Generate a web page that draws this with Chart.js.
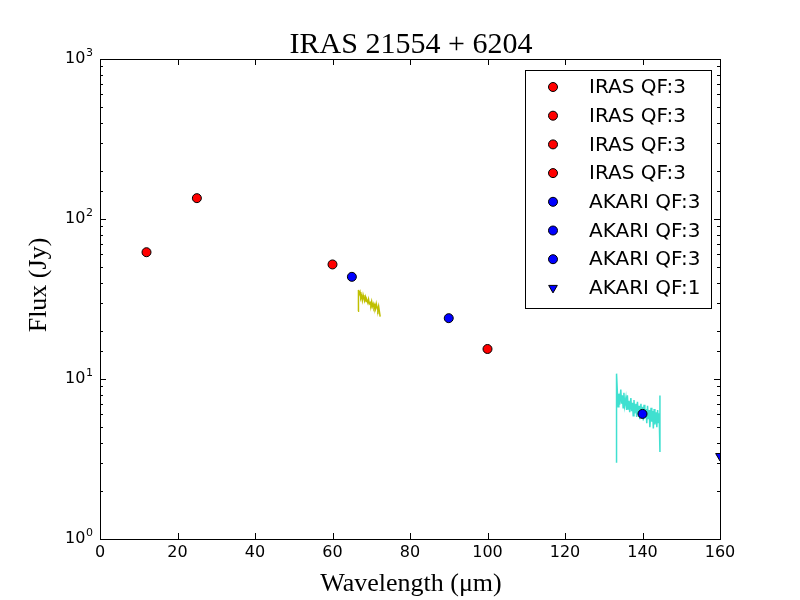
<!DOCTYPE html>
<html>
<head>
<meta charset="utf-8">
<title>IRAS 21554+6204</title>
<script src="https://cdn.jsdelivr.net/npm/chart.js@4"></script>
<style>
  body { margin: 0; background: #fff; }
  canvas { display: block; }
</style>
</head>
<body>
<canvas id="sed" width="800" height="600"></canvas>
<script>
// photometry
const irasWave = [12, 25, 60, 100];
const irasFlux = [62, 135, 52, 15.4];
const irasLabels = ["IRAS QF:3", "IRAS QF:3", "IRAS QF:3", "IRAS QF:3"];

const akariWave = [65, 90, 140];
const akariFlux = [43.5, 24, 6.05];
const akariLabels = ["AKARI QF:3", "AKARI QF:3", "AKARI QF:3"];

const akariLimWave = [160];
const akariLimFlux = [3.3];
const akariLimLabels = ["AKARI QF:1"];

// spectra
const specYWave = [66.6, 66.7, 66.9, 67.1, 67.3, 67.5, 67.7, 67.9, 68.1, 68.3,
  68.5, 68.7, 68.9, 69.1, 69.3, 69.5, 69.7, 69.9, 70.1, 70.3,
  70.5, 70.7, 70.9, 71.1, 71.3, 71.5, 71.7, 71.9, 72.3];
const specYFlux = [26.5, 36, 34, 35, 32, 33, 31, 33.5, 32, 31,
  32.5, 30.5, 31, 30, 31.5, 29.5, 30, 29, 30.5, 28.5,
  29.5, 28, 29, 27.5, 29.5, 28, 27, 28.5, 24.5];

const specCWave = [133.3, 133.3,
  133.5, 133.7, 133.9, 134.1, 134.4, 134.6, 134.8, 135.0, 135.2, 135.4,
  135.7, 135.9, 136.1, 136.3, 136.5, 136.7, 137.0, 137.2, 137.4, 137.6,
  137.8, 138.0, 138.3, 138.5, 138.7, 138.9, 139.1, 139.3, 139.6, 139.8,
  140.0, 140.2, 140.4, 140.6, 140.9, 141.1, 141.3, 141.5, 141.7, 141.9,
  142.2, 142.4, 142.6, 142.8, 143.0, 143.2, 143.5, 143.7, 143.9, 144.1,
  144.3, 144.5, 144.5];
const specCFlux = [3.0, 10.8,
  8.4, 6.7, 8.1, 6.9, 8.6, 7.0, 7.9, 6.6, 8.2, 6.8,
  7.6, 6.4, 7.9, 6.5, 7.3, 6.2, 7.6, 6.3, 7.1, 5.9,
  7.4, 6.1, 7.0, 5.8, 7.2, 6.0, 6.8, 5.6, 7.0, 5.8,
  6.7, 5.5, 6.9, 5.7, 6.5, 5.3, 6.8, 5.6, 6.4, 5.0,
  6.6, 5.4, 6.3, 4.9, 6.5, 5.2, 6.2, 5.0, 6.4, 5.3,
  6.1, 7.9, 3.5];

const xTicks = [0, 20, 40, 60, 80, 100, 120, 140, 160];
const yTickExp = { 1: "0", 10: "1", 100: "2", 1000: "3" };

function pointSet(label, x, y, color, style, rot) {
  return {
    label: label,
    data: [{ x: x, y: y }],
    backgroundColor: color,
    borderColor: "#000",
    borderWidth: 1,
    pointStyle: style,
    pointRotation: rot,
    pointRadius: style === "triangle" ? 5 : 4.5,
    clip: 0
  };
}

function specSet(wave, flux, color) {
  return {
    data: wave.map((w, i) => ({ x: w, y: flux[i] })),
    showLine: true,
    borderColor: color,
    borderWidth: 1.5,
    pointRadius: 0,
    clip: 0
  };
}

const datasets = [];
irasWave.forEach((w, i) => datasets.push(pointSet(irasLabels[i], w, irasFlux[i], "#ff0000", "circle", 0)));
akariWave.forEach((w, i) => datasets.push(pointSet(akariLabels[i], w, akariFlux[i], "#0000ff", "circle", 0)));
akariLimWave.forEach((w, i) => datasets.push(pointSet(akariLimLabels[i], w, akariLimFlux[i], "#0000ff", "triangle", 180)));
datasets.push(specSet(specYWave, specYFlux, "#bfbf00"));
datasets.push(specSet(specCWave, specCFlux, "#40e0d0"));

// frame, inward ticks, log labels, titles and legend box
const decor = {
  id: "decor",
  afterDatasetsDraw(chart) {
    const { ctx, chartArea: a, scales } = chart;
    ctx.save();
    ctx.strokeStyle = "#000";
    ctx.lineWidth = 1;
    ctx.beginPath();
    scales.x.ticks.forEach(t => {
      const px = Math.round(scales.x.getPixelForValue(t.value)) + 0.5;
      ctx.moveTo(px, a.bottom); ctx.lineTo(px, a.bottom - 6);
      ctx.moveTo(px, a.top); ctx.lineTo(px, a.top + 6);
    });
    scales.y.ticks.forEach(t => {
      const lg = Math.log10(t.value);
      const len = Math.abs(lg - Math.round(lg)) < 1e-6 ? 6 : 3;
      const py = Math.round(scales.y.getPixelForValue(t.value)) + 0.5;
      ctx.moveTo(a.left, py); ctx.lineTo(a.left + len, py);
      ctx.moveTo(a.right, py); ctx.lineTo(a.right - len, py);
    });
    ctx.stroke();
    ctx.strokeRect(a.left + 0.5, a.top + 0.5, a.right - a.left, a.bottom - a.top);

    // y tick labels as 10 with raised exponent
    ctx.fillStyle = "#000";
    ctx.textAlign = "left";
    ctx.textBaseline = "middle";
    scales.y.ticks.forEach(t => {
      const e = yTickExp[t.value];
      if (e === undefined) return;
      const py = scales.y.getPixelForValue(t.value);
      ctx.font = "16px 'DejaVu Sans'";
      ctx.fillText("10", 65, py);
      ctx.font = "11px 'DejaVu Sans'";
      ctx.fillText(e, 86, py - 6);
    });

    // legend
    const lx = 525, ly = 70, lw = 186, lh = 238;
    ctx.fillStyle = "#fff";
    ctx.fillRect(lx, ly, lw, lh);
    ctx.strokeRect(lx + 0.5, ly + 0.5, lw, lh);
    ctx.font = "20px 'DejaVu Sans'";
    ctx.textBaseline = "middle";
    ctx.textAlign = "left";
    let row = 0;
    chart.data.datasets.forEach(ds => {
      if (!ds.label) return;
      const y = ly + 17 + row * 28.7;
      ctx.fillStyle = ds.backgroundColor;
      ctx.strokeStyle = "#000";
      ctx.lineWidth = 1;
      Chart.helpers.drawPoint(ctx, {
        pointStyle: ds.pointStyle, radius: ds.pointRadius,
        rotation: ds.pointRotation, borderWidth: 1
      }, 553, y);
      ctx.fillStyle = "#000";
      ctx.fillText(ds.label, 589, y + 1);
      row++;
    });

    // titles
    ctx.fillStyle = "#000";
    ctx.textAlign = "center";
    ctx.textBaseline = "alphabetic";
    ctx.font = "30px 'Liberation Serif'";
    ctx.fillText("IRAS 21554 + 6204", 411, 53);
    ctx.font = "26px 'Liberation Serif'";
    ctx.fillText("Wavelength (\u03bcm)", 411, 591);
    ctx.translate(46, 285);
    ctx.rotate(-Math.PI / 2);
    ctx.fillText("Flux (Jy)", 0, 0);
    ctx.restore();
  }
};

new Chart(document.getElementById("sed"), {
  type: "scatter",
  data: { datasets: datasets },
  options: {
    responsive: false,
    animation: false,
    devicePixelRatio: 1,
    layout: { padding: { top: 59, right: 80, left: 0, bottom: 0 } },
    plugins: { legend: { display: false }, tooltip: { enabled: false } },
    scales: {
      x: {
        type: "linear",
        min: 0,
        max: 160,
        afterFit: s => { s.height = 61; },
        afterBuildTicks: s => { s.ticks = xTicks.map(v => ({ value: v })); },
        grid: { display: false, drawTicks: false },
        border: { display: false },
        ticks: { color: "#000", font: { family: "DejaVu Sans", size: 16 }, padding: 4, maxRotation: 0 }
      },
      y: {
        type: "logarithmic",
        min: 1,
        max: 1000,
        afterFit: s => { s.width = 100; },
        grid: { display: false, drawTicks: false },
        border: { display: false },
        ticks: { autoSkip: false, display: false }
      }
    }
  },
  plugins: [decor]
});
</script>
</body>
</html>
